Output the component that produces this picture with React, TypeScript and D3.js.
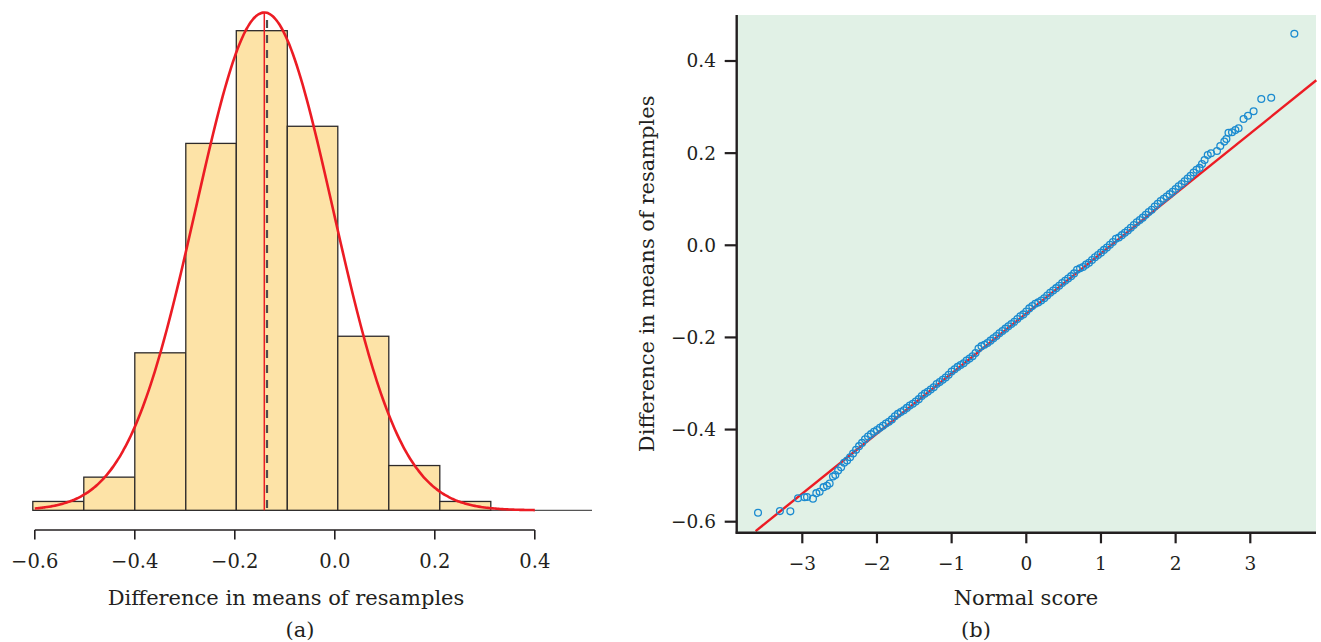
import React from "react";
import * as d3 from "d3";

// ---------- Panel (a): histogram of resample differences ----------
const binEdges = [-0.604, -0.502, -0.4, -0.298, -0.197, -0.095, 0.006, 0.108, 0.21, 0.312];
const binCounts = [16, 60, 285, 664, 868, 695, 315, 81, 16];
const histTicks = [-0.6, -0.4, -0.2, 0.0, 0.2, 0.4];
const normalMean = -0.141;
const normalSd = 0.137;
const normalPeak = 901;
const observedDiff = -0.1356;

// ---------- Panel (b): normal quantile plot ----------
const qqZ = [
  -3.593, -3.3, -3.16, -3.057, -2.97, -2.937, -2.857, -2.812, -2.768, -2.715, -2.67, -2.634, -2.589, -2.558,
  -2.52, -2.48, -2.44, -2.4, -2.36, -2.32, -2.28, -2.24, -2.2, -2.16, -2.12, -2.08, -2.04, -2.0,
  -1.96, -1.92, -1.88, -1.84, -1.8, -1.76, -1.72, -1.68, -1.64, -1.6, -1.56, -1.52, -1.48, -1.44,
  -1.4, -1.36, -1.32, -1.28, -1.24, -1.2, -1.16, -1.12, -1.08, -1.04, -1.0, -0.96, -0.92, -0.88,
  -0.84, -0.8, -0.76, -0.72, -0.68, -0.64, -0.6, -0.56, -0.52, -0.48, -0.44, -0.4, -0.36, -0.32,
  -0.28, -0.24, -0.2, -0.16, -0.12, -0.08, -0.04, 0.0, 0.04, 0.08, 0.12, 0.16, 0.2, 0.24,
  0.28, 0.32, 0.36, 0.4, 0.44, 0.48, 0.52, 0.56, 0.6, 0.64, 0.68, 0.72, 0.76, 0.8,
  0.84, 0.88, 0.92, 0.96, 1.0, 1.04, 1.08, 1.12, 1.16, 1.2, 1.24, 1.28, 1.32, 1.36,
  1.4, 1.44, 1.48, 1.52, 1.56, 1.6, 1.64, 1.68, 1.72, 1.76, 1.8, 1.84, 1.88, 1.92,
  1.96, 2.0, 2.04, 2.08, 2.12, 2.16, 2.2, 2.24, 2.28, 2.32, 2.353, 2.388, 2.43, 2.474,
  2.554, 2.598, 2.652, 2.68, 2.708, 2.755, 2.8, 2.843, 2.91, 2.969, 3.044, 3.147, 3.28, 3.59,
];
const qqY = [
  -0.5805, -0.577, -0.5775, -0.549, -0.547, -0.5465, -0.55, -0.538, -0.535, -0.525, -0.522, -0.517, -0.502, -0.4987,
  -0.489, -0.482, -0.472, -0.467, -0.46, -0.452, -0.444, -0.436, -0.429, -0.421, -0.415, -0.41, -0.405, -0.401,
  -0.396, -0.392, -0.387, -0.383, -0.378, -0.371, -0.366, -0.362, -0.358, -0.353, -0.348, -0.344, -0.339, -0.334,
  -0.327, -0.322, -0.318, -0.313, -0.308, -0.301, -0.297, -0.292, -0.287, -0.281, -0.274, -0.269, -0.264, -0.26,
  -0.256, -0.25, -0.246, -0.241, -0.234, -0.224, -0.219, -0.216, -0.212, -0.207, -0.202, -0.197, -0.191, -0.186,
  -0.181, -0.176, -0.171, -0.166, -0.16, -0.154, -0.15, -0.144, -0.137, -0.132, -0.127, -0.124, -0.12, -0.115,
  -0.109, -0.103, -0.098, -0.093, -0.088, -0.082, -0.077, -0.072, -0.067, -0.061, -0.053, -0.05, -0.047, -0.042,
  -0.038, -0.032, -0.026, -0.021, -0.016, -0.01, -0.005, 0.001, 0.007, 0.014, 0.017, 0.022, 0.027, 0.032,
  0.038, 0.044, 0.05, 0.055, 0.06, 0.066, 0.072, 0.077, 0.084, 0.09, 0.096, 0.101, 0.106, 0.111,
  0.116, 0.122, 0.128, 0.133, 0.139, 0.145, 0.151, 0.158, 0.164, 0.168, 0.1764, 0.1851, 0.196, 0.1997,
  0.2046, 0.2155, 0.225, 0.2307, 0.2444, 0.2452, 0.25, 0.254, 0.274, 0.2813, 0.291, 0.3175, 0.3203, 0.459,
];
const qqXTicks = [-3, -2, -1, 0, 1, 2, 3];
const qqYTicks = [0.4, 0.2, 0.0, -0.2, -0.4, -0.6];
const fitIntercept = -0.148;
const fitSlope = 0.1303;
const fitZRange = [-3.625, 3.884];

const FONT = "'DejaVu Serif', 'Liberation Serif', serif";
const INK = "#231f20";
const RED = "#ec1c24";
const BLUE = "#1b8bd0";

const fmtTick = (v: number, digits: number) => {
  const s = Math.abs(v).toFixed(digits);
  return v < -1e-9 ? "\u2212" + s : s;
};

export default function App() {
  // Panel (a) scales
  const xL = d3.scaleLinear().domain([-0.6, 0.4]).range([34.8, 534.8]);
  const yL = d3.scaleLinear().domain([0, 900]).range([510.3, 13]);
  const base = yL(0);
  const pdf = (v: number) => normalPeak * Math.exp(-((v - normalMean) ** 2) / (2 * normalSd * normalSd));
  const curvePts = d3.range(-0.6, 0.40001, 0.004).map((v) => [v, pdf(v)] as [number, number]);
  const curve = d3
    .line<[number, number]>()
    .x((d) => xL(d[0]))
    .y((d) => yL(d[1]))
    .curve(d3.curveBasis)(curvePts) as string;
  const axisY = 530;

  // Panel (b) scales
  const xR = d3.scaleLinear().domain([-3, 3]).range([802.3, 1250.3]);
  const yR = d3.scaleLinear().domain([-0.6, 0.4]).range([521.7, 61]);
  const plotL = 736.7, plotR = 1316, plotT = 15, plotB = 532.7;

  return (
    <svg
      width={1321}
      height={642}
      style={{ position: "absolute", left: 0, top: 0, display: "block", background: "#fff" }}
      fontFamily={FONT}
    >
      {/* ---------- Panel (a) ---------- */}
      <line x1={33} x2={592} y1={base} y2={base} stroke="#555" strokeWidth={1.2} />
      {binCounts.map((c, i) => (
        <rect
          key={i}
          x={xL(binEdges[i])}
          y={yL(c)}
          width={xL(binEdges[i + 1]) - xL(binEdges[i])}
          height={base - yL(c)}
          fill="#fde3a7"
          stroke="#2d2a2a"
          strokeWidth={1.3}
        />
      ))}
      <line
        x1={xL(observedDiff)}
        x2={xL(observedDiff)}
        y1={20}
        y2={base}
        stroke="#4d4d4d"
        strokeWidth={2.2}
        strokeDasharray="8,7"
      />
      <line x1={xL(normalMean)} x2={xL(normalMean)} y1={yL(normalPeak)} y2={base} stroke={RED} strokeWidth={1.5} />
      <path d={curve} fill="none" stroke={RED} strokeWidth={2.6} />

      <line x1={xL(-0.6)} x2={xL(0.4)} y1={axisY} y2={axisY} stroke={INK} strokeWidth={1.6} />
      {histTicks.map((t) => (
        <g key={t}>
          <line x1={xL(t)} x2={xL(t)} y1={axisY} y2={axisY + 9.5} stroke={INK} strokeWidth={1.6} />
          <text x={xL(t)} y={567.5} textAnchor="middle" fontSize={19.5} fill={INK}>
            {fmtTick(t, 1)}
          </text>
        </g>
      ))}
      <text x={286} y={605} textAnchor="middle" fontSize={21} fill={INK}>
        Difference in means of resamples
      </text>
      <text x={300} y={637} textAnchor="middle" fontSize={21} fill={INK}>
        (a)
      </text>

      {/* ---------- Panel (b) ---------- */}
      <rect x={plotL} y={plotT} width={plotR - plotL} height={plotB - plotT} fill="#e1f1e6" />
      <line
        x1={xR(fitZRange[0])}
        y1={yR(fitIntercept + fitSlope * fitZRange[0])}
        x2={xR(fitZRange[1])}
        y2={yR(fitIntercept + fitSlope * fitZRange[1])}
        stroke={RED}
        strokeWidth={2.4}
      />
      {qqZ.map((z, i) => (
        <circle key={i} cx={xR(z)} cy={yR(qqY[i])} r={3.4} fill="none" stroke={BLUE} strokeWidth={1.3} />
      ))}
      <line x1={plotL} x2={plotL} y1={plotT} y2={plotB + 1} stroke={INK} strokeWidth={2.4} />
      <line x1={plotL - 1} x2={plotR} y1={plotB} y2={plotB} stroke={INK} strokeWidth={2.4} />
      {qqYTicks.map((t) => (
        <g key={t}>
          <line x1={plotL - 12} x2={plotL} y1={yR(t)} y2={yR(t)} stroke={INK} strokeWidth={2.2} />
          <text x={716} y={yR(t)} dy="0.35em" textAnchor="end" fontSize={18.5} fill={INK}>
            {fmtTick(t, 1)}
          </text>
        </g>
      ))}
      {qqXTicks.map((t) => (
        <g key={t}>
          <line x1={xR(t)} x2={xR(t)} y1={plotB} y2={plotB + 10.6} stroke={INK} strokeWidth={2.2} />
          <text x={xR(t)} y={570} textAnchor="middle" fontSize={18.5} fill={INK}>
            {fmtTick(t, 0)}
          </text>
        </g>
      ))}
      <text x={1026} y={605} textAnchor="middle" fontSize={21} fill={INK}>
        Normal score
      </text>
      <text x={976} y={637} textAnchor="middle" fontSize={21} fill={INK}>
        (b)
      </text>
      <text
        transform={`translate(654, ${(plotT + plotB) / 2}) rotate(-90)`}
        textAnchor="middle"
        fontSize={21}
        fill={INK}
      >
        Difference in means of resamples
      </text>
    </svg>
  );
}
